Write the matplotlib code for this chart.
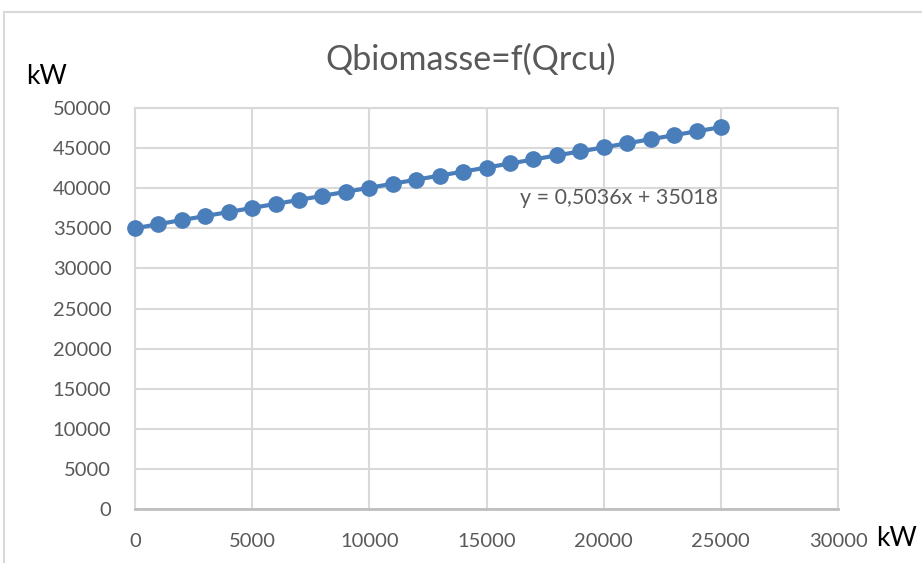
import numpy as np
import matplotlib.pyplot as plt
from matplotlib.lines import Line2D

# Données (kW)
q_rcu = [0, 1000, 2000, 3000, 4000, 5000, 6000, 7000, 8000, 9000, 10000,
         11000, 12000, 13000, 14000, 15000, 16000, 17000, 18000, 19000,
         20000, 21000, 22000, 23000, 24000, 25000]
q_biomasse = [35000, 35520, 36030, 36530, 37030, 37540, 38040, 38540, 39050,
              39550, 40050, 40560, 41060, 41570, 42070, 42570, 43080, 43580,
              44090, 44590, 45090, 45600, 46100, 46610, 47110, 47610]
x_ticks = [0, 5000, 10000, 15000, 20000, 25000, 30000]
y_ticks = [0, 5000, 10000, 15000, 20000, 25000, 30000, 35000, 40000, 45000, 50000]
titre = "Qbiomasse=f(Qrcu)"
equation = "y = 0,5036x + 35018"

plt.rcParams['font.family'] = ['Lato', 'DejaVu Sans']
gris_txt = '#595959'
gris_grille = '#d9d9d9'
bleu = '#4a7ebb'

fig = plt.figure(figsize=(9.22, 5.63), dpi=100)
ax = fig.add_axes([135 / 922, 54 / 563, 703 / 922, 401 / 563])

ax.plot(q_rcu, q_biomasse, '-o', color=bleu, lw=3, ms=11, zorder=3, clip_on=False)

ax.set_xlim(0, 30000)
ax.set_ylim(0, 50000)
ax.set_xticks(x_ticks)
ax.set_yticks(y_ticks)
ax.tick_params(length=0, labelsize=14.5, labelcolor=gris_txt, pad=17)
ax.grid(True, color=gris_grille, lw=1.5)
ax.set_axisbelow(True)
for s in ['top', 'right', 'left']:
    ax.spines[s].set_color(gris_grille)
    ax.spines[s].set_linewidth(1.5)
ax.spines['bottom'].set_color('#bfbfbf')
ax.spines['bottom'].set_linewidth(2)

ax.text(16450, 38800, equation, fontsize=15.5, color=gris_txt, va='center', ha='left')

fig.text(471 / 922, 1 - 60 / 563, titre, fontsize=24.5, color=gris_txt, ha='center', va='center')
fig.text(46 / 922, 1 - 76 / 563, "kW", fontsize=19, color='black', ha='center', va='center')
fig.text(896 / 922, 1 - 539 / 563, "kW", fontsize=19, color='black', ha='center', va='center')

# cadre du graphique
fig.add_artist(Line2D([4 / 922, 4 / 922], [0, 1 - 12 / 563], transform=fig.transFigure, color=gris_grille, lw=1.5))
fig.add_artist(Line2D([4 / 922, 1], [1 - 12 / 563, 1 - 12 / 563], transform=fig.transFigure, color=gris_grille, lw=1.5))

plt.savefig('out.png', dpi=100)
